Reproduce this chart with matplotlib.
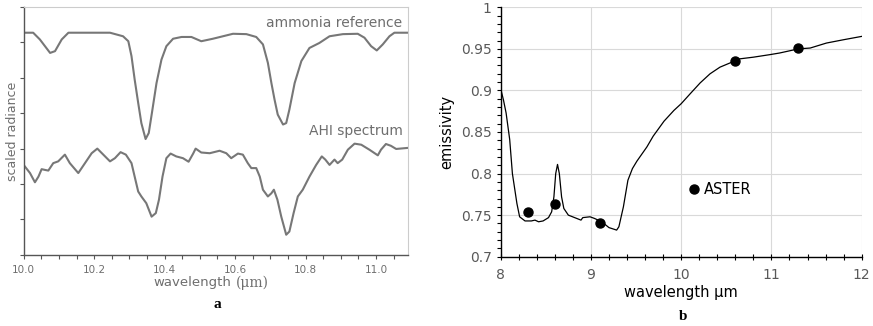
import matplotlib.pyplot as plt
from matplotlib.ticker import MultipleLocator

# panel a: ammonia reference and AHI spectrum (arbitrary scaled units)
ref_wl = [10.000, 10.027, 10.046, 10.075, 10.089, 10.108, 10.127, 10.245, 10.282, 10.297,
          10.306, 10.315, 10.325, 10.334, 10.346, 10.355, 10.364, 10.377, 10.391, 10.405,
          10.424, 10.448, 10.476, 10.504, 10.537, 10.594, 10.632, 10.660, 10.679, 10.693,
          10.703, 10.712, 10.721, 10.736, 10.745, 10.754, 10.769, 10.788, 10.811, 10.839,
          10.868, 10.906, 10.948, 10.967, 10.986, 11.002, 11.019, 11.038, 11.052, 11.090]
ref_rad = [6.27, 6.27, 6.08, 5.70, 5.75, 6.08, 6.27, 6.27, 6.17, 6.03,
           5.61, 4.95, 4.29, 3.72, 3.27, 3.44, 4.01, 4.85, 5.51, 5.89,
           6.10, 6.15, 6.15, 6.03, 6.10, 6.24, 6.23, 6.15, 5.94, 5.42,
           4.85, 4.38, 3.96, 3.68, 3.72, 4.10, 4.85, 5.47, 5.84, 5.98,
           6.17, 6.23, 6.24, 6.13, 5.89, 5.77, 5.94, 6.17, 6.27, 6.27]

ahi_wl = [10.000, 10.018, 10.032, 10.042, 10.051, 10.060, 10.070, 10.084, 10.098, 10.117,
          10.131, 10.155, 10.174, 10.193, 10.209, 10.226, 10.245, 10.259, 10.275, 10.290,
          10.306, 10.315, 10.325, 10.334, 10.348, 10.363, 10.375, 10.384, 10.394, 10.405,
          10.417, 10.433, 10.452, 10.468, 10.481, 10.488, 10.504, 10.528, 10.556, 10.575,
          10.589, 10.608, 10.622, 10.636, 10.646, 10.660, 10.670, 10.679, 10.693, 10.703,
          10.710, 10.720, 10.731, 10.745, 10.754, 10.766, 10.778, 10.792, 10.811, 10.830,
          10.846, 10.856, 10.868, 10.882, 10.891, 10.904, 10.920, 10.939, 10.958, 10.981,
          11.005, 11.014, 11.028, 11.042, 11.057, 11.090]
ahi_rad = [2.54, 2.31, 2.05, 2.21, 2.42, 2.40, 2.38, 2.59, 2.64, 2.83,
           2.59, 2.31, 2.59, 2.87, 3.00, 2.83, 2.64, 2.73, 2.90, 2.83,
           2.59, 2.21, 1.79, 1.65, 1.46, 1.08, 1.18, 1.56, 2.21, 2.73,
           2.86, 2.78, 2.73, 2.63, 2.86, 3.00, 2.89, 2.87, 2.94, 2.87,
           2.73, 2.86, 2.83, 2.59, 2.45, 2.45, 2.21, 1.84, 1.65, 1.74,
           1.84, 1.56, 1.08, 0.57, 0.66, 1.18, 1.65, 1.84, 2.21, 2.54,
           2.78, 2.69, 2.54, 2.69, 2.59, 2.69, 2.97, 3.14, 3.11, 2.97,
           2.81, 2.97, 3.13, 3.08, 2.99, 3.02]

# panel b: emissivity spectrum and ASTER band values
em_wl = [8.00, 8.03, 8.06, 8.10, 8.13, 8.18, 8.21, 8.27, 8.34, 8.38, 8.42, 8.47, 8.53,
         8.565, 8.59, 8.61, 8.63, 8.65, 8.675, 8.70, 8.75, 8.82, 8.89, 8.91, 8.99, 9.04,
         9.12, 9.20, 9.285, 9.31, 9.36, 9.41, 9.46, 9.51, 9.62, 9.69, 9.81, 9.92, 10.00,
         10.10, 10.21, 10.32, 10.43, 10.54, 10.65, 10.80, 10.98, 11.09, 11.30, 11.43,
         11.61, 11.80, 12.00]
em_val = [0.902, 0.889, 0.873, 0.841, 0.800, 0.764, 0.748, 0.743, 0.743, 0.744, 0.742,
          0.743, 0.747, 0.754, 0.772, 0.800, 0.811, 0.800, 0.772, 0.758, 0.750, 0.747,
          0.744, 0.747, 0.748, 0.746, 0.742, 0.735, 0.732, 0.736, 0.760, 0.792, 0.806,
          0.815, 0.832, 0.845, 0.863, 0.876, 0.884, 0.896, 0.909, 0.920, 0.928, 0.933,
          0.938, 0.940, 0.943, 0.945, 0.950, 0.951, 0.957, 0.961, 0.965]
aster_wl = [8.30, 8.60, 9.10, 10.60, 11.30]
aster_val = [0.754, 0.763, 0.740, 0.935, 0.951]

fig = plt.figure(figsize=(8.73, 3.26), dpi=100)

# ---- panel a
gray = '#6e6e6e'
ax1 = fig.add_axes([0.0271, 0.218, 0.440, 0.761])
ax1.plot(ref_wl, ref_rad, color='#777777', lw=1.5, solid_joinstyle='round')
ax1.plot(ahi_wl, ahi_rad, color='#777777', lw=1.5, solid_joinstyle='round')
ax1.set_xlim(10.0, 11.09)
ax1.set_ylim(0, 7)
ax1.xaxis.set_major_locator(MultipleLocator(0.2))
ax1.xaxis.set_minor_locator(MultipleLocator(0.05))
ax1.yaxis.set_major_locator(MultipleLocator(1))
ax1.xaxis.set_major_formatter(plt.FormatStrFormatter('%.1f'))
ax1.set_yticklabels([])
ax1.tick_params(axis='both', which='both', length=3, width=0.8, color='#555555',
                labelsize=7.5, labelcolor=gray, pad=4)
for s in ['left', 'bottom']:
    ax1.spines[s].set_color('#555555')
    ax1.spines[s].set_linewidth(1)
for s in ['top', 'right']:
    ax1.spines[s].set_color('#cccccc')
    ax1.spines[s].set_linewidth(0.8)
ax1.set_ylabel('scaled radiance', fontsize=9, color=gray)
ax1.yaxis.set_label_coords(-0.013, 0.5)
ax1.text(11.075, 6.55, 'ammonia reference', ha='right', va='center', fontsize=10, color=gray)
ax1.text(11.075, 3.5, 'AHI spectrum', ha='right', va='center', fontsize=10, color=gray)
fig.text(0.265, 0.133, 'wavelength', ha='right', va='center', fontsize=9.5, color=gray)
fig.text(0.27, 0.133, '(μm)', ha='left', va='center', fontsize=10, color=gray,
         family='DejaVu Serif')
fig.text(0.249, 0.067, 'a', ha='center', va='center', fontsize=11, fontweight='bold',
         family='Liberation Serif')

# ---- panel b
ax2 = fig.add_axes([0.5735, 0.2126, 0.4135, 0.765])
ax2.plot(em_wl, em_val, color='black', lw=0.9)
ax2.plot(aster_wl, aster_val, 'o', color='black', ms=6.5, label='ASTER')
ax2.set_xlim(8, 12)
ax2.set_ylim(0.7, 1.0)
ax2.xaxis.set_major_locator(MultipleLocator(1))
ax2.xaxis.set_minor_locator(MultipleLocator(0.2))
ax2.yaxis.set_minor_locator(MultipleLocator(0.01))
ax2.set_yticks([0.7, 0.75, 0.8, 0.85, 0.9, 0.95, 1.0])
ax2.set_yticklabels(['0.7', '0.75', '0.8', '0.85', '0.9', '0.95', '1'])
ax2.grid(True, which='major', color='#d9d9d9', lw=0.8)
ax2.set_axisbelow(True)
ax2.tick_params(axis='both', which='both', color='black', width=0.8,
                labelsize=10, labelcolor='#595959')
ax2.tick_params(axis='x', which='both', direction='inout', length=5, pad=6)
ax2.tick_params(axis='y', which='both', direction='out', length=3)
ax2.spines['top'].set_visible(False)
ax2.spines['right'].set_visible(False)
ax2.spines['left'].set_linewidth(1)
ax2.spines['bottom'].set_linewidth(1)
ax2.set_xlabel('wavelength μm', fontsize=10.5, labelpad=2)
ax2.set_ylabel('emissivity', fontsize=10.5, labelpad=5)
ax2.legend(loc='center left', bbox_to_anchor=(0.49, 0.27), frameon=False,
           fontsize=10.5, handletextpad=0.1, borderpad=0, handlelength=1.2)
fig.text(0.782, 0.03, 'b', ha='center', va='center', fontsize=11, fontweight='bold',
         family='Liberation Serif')

fig.savefig('out.png', dpi=100)
